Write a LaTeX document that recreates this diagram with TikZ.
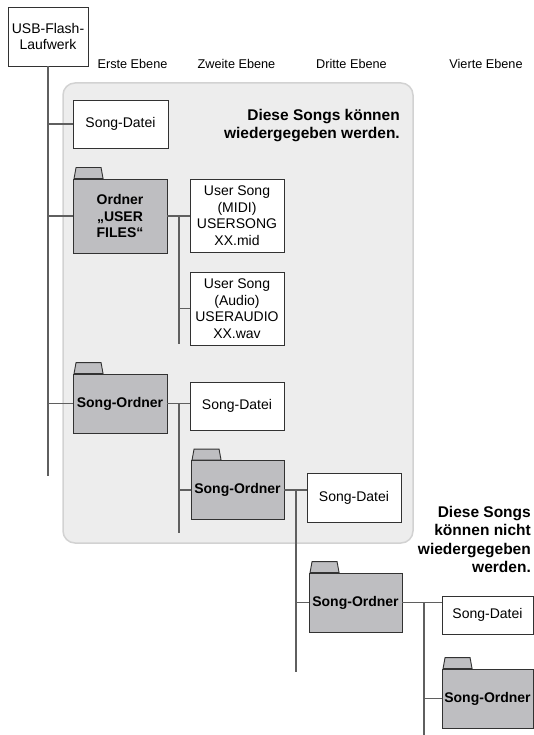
\documentclass[tikz,border=0pt]{standalone}
\usepackage{fontspec}
\setmainfont{Liberation Sans}
\usetikzlibrary{positioning}

\definecolor{panelfill}{RGB}{237,237,237}
\definecolor{panelline}{RGB}{210,210,210}
\definecolor{foldergray}{RGB}{190,190,193}
\definecolor{boxline}{RGB}{50,50,50}
\definecolor{wire}{RGB}{95,95,95}

\begin{document}
\begin{tikzpicture}[
    x=1pt, y=-1pt,
    box/.style={
        rectangle, draw=boxline, line width=0.9pt, fill=white,
        inner sep=0pt, align=center,
        font=\fontsize{14}{16.5}\selectfont
    },
    file/.style={box, minimum width=94pt, minimum height=48pt},
    folder/.style={
        box, fill=foldergray,
        minimum width=94pt, minimum height=59pt,
        font=\fontsize{14}{16.5}\selectfont\bfseries
    },
    level/.style={font=\fontsize{12.7}{15}\selectfont},
    note/.style={
        anchor=north east, inner sep=0pt, align=right,
        font=\fontsize{15.5}{18.5}\selectfont\bfseries
    },
    link/.style={draw=wire, line width=1.3pt},
]

\useasboundingbox (0,0) rectangle (533,735);

\draw[draw=panelline, fill=panelfill, line width=1.5pt, rounded corners=12pt]
    (63,83) rectangle (413,543);

\node[box, minimum width=80pt, minimum height=59pt] (usb) at (48,36.5) {USB-Flash-\\Laufwerk};

\node[level] (lv1) at (132.5,64) {Erste Ebene};
\node[level] (lv2) at (236.5,64) {Zweite Ebene};
\node[level] (lv3) at (351.5,64) {Dritte Ebene};
\node[level] (lv4) at (486,64)   {Vierte Ebene};

\node[note] (playok) at (400,109) {Diese Songs können\\wiedergegeben werden.};
\node[note] (playno) at (531,506) {Diese Songs\\können nicht\\wiedergegeben\\werden.};

\node[file, minimum width=95pt] (datei0) at (120.5,124) {Song-Datei};
\node[folder, minimum height=74pt] (userdir) at (120,216) {Ordner\\„USER\\FILES“};
\node[file, minimum height=73pt] (midi)  at (237,215.5) {User Song\\(MIDI)\\USERSONG\\XX.mid};
\node[file, minimum height=73pt] (audio) at (237,308.5) {User Song\\(Audio)\\USERAUDIO\\XX.wav};

\node[folder] (sdir1) at (120,403.5) {Song-Ordner};
\node[file] (datei1) at (237,406) {Song-Datei};
\node[folder, minimum width=93pt] (sdir2) at (237.5,490) {Song-Ordner};
\node[file, minimum height=49pt] (datei2) at (354,497.5) {Song-Datei};
\node[folder, minimum width=93pt] (sdir3) at (355.5,602.5) {Song-Ordner};
\node[file, minimum width=91pt, minimum height=38pt] (datei3) at (487.5,615) {Song-Datei};
\node[folder, minimum width=91pt] (sdir4) at (487.5,698.5) {Song-Ordner};

\foreach \f in {userdir, sdir1, sdir2, sdir3, sdir4}
    \filldraw[draw=boxline, fill=foldergray, line width=0.9pt]
        ([xshift=1.5pt]\f.north west) -- ++(2,-11) -- ++(25,0) -- ++(2,11) -- cycle;

\coordinate (t0end) at (48,476);
\draw[link] (usb.south) -- (t0end);
\draw[link] (usb.south |- datei0.west) -- (datei0.west);
\draw[link] (usb.south |- userdir.west) -- (userdir.west);
\draw[link] (usb.south |- sdir1.west) -- (sdir1.west);

\coordinate (t1top) at (179,216);
\coordinate (t1end) at (179,344);
\draw[link] (userdir.east) -- (midi.west |- userdir.east);
\draw[link] (t1top) -- (t1end);
\draw[link] (t1top |- audio.west) -- (audio.west);

\coordinate (t2top) at (179,403.5);
\coordinate (t2end) at (179,533);
\draw[link] (sdir1.east) -- (datei1.west |- sdir1.east);
\draw[link] (t2top) -- (t2end);
\draw[link] (t2top |- sdir2.west) -- (sdir2.west);

\coordinate (t3top) at (296,490);
\coordinate (t3end) at (296,672);
\draw[link] (sdir2.east) -- (datei2.west |- sdir2.east);
\draw[link] (t3top) -- (t3end);
\draw[link] (t3top |- sdir3.west) -- (sdir3.west);

\coordinate (t4top) at (424,602.5);
\coordinate (t4end) at (424,735);
\draw[link] (sdir3.east) -- (datei3.west |- sdir3.east);
\draw[link] (t4top) -- (t4end);
\draw[link] (t4top |- sdir4.west) -- (sdir4.west);

\end{tikzpicture}
\end{document}
